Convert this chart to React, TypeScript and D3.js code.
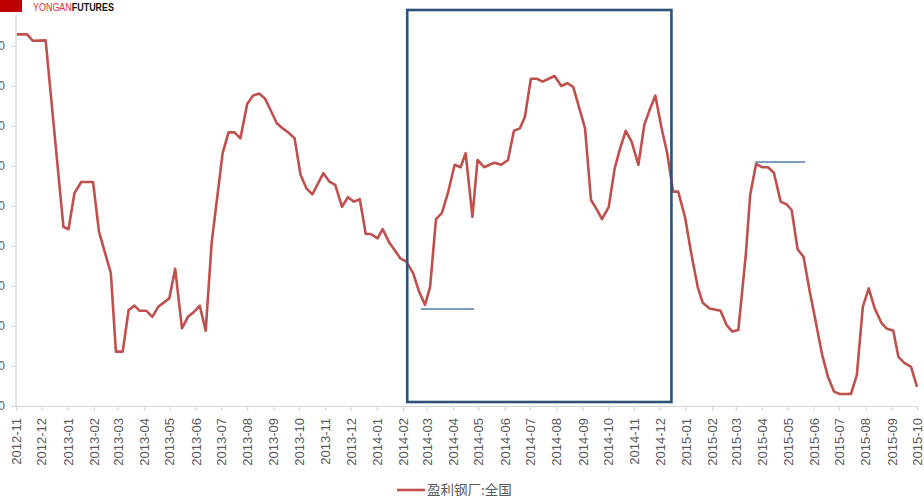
import { useEffect, useRef } from 'react';
import * as d3 from 'd3';

const W = 924;
const H = 496;

// 盈利钢厂:全国 — weekly readings
const dates = [
  '2012-11-02', '2012-11-14', '2012-11-21', '2012-12-06', '2012-12-27', '2013-01-02', '2013-01-09', '2013-01-17',
  '2013-01-31', '2013-02-07', '2013-02-21', '2013-02-27', '2013-03-07', '2013-03-14', '2013-03-21', '2013-03-27',
  '2013-04-04', '2013-04-11', '2013-04-18', '2013-05-01', '2013-05-08', '2013-05-16', '2013-05-23', '2013-05-29',
  '2013-06-06', '2013-06-13', '2013-06-20', '2013-07-03', '2013-07-10', '2013-07-17', '2013-07-24', '2013-08-01',
  '2013-08-08', '2013-08-15', '2013-08-22', '2013-08-29', '2013-09-05', '2013-09-12', '2013-09-19', '2013-09-26',
  '2013-10-03', '2013-10-10', '2013-10-17', '2013-10-30', '2013-11-06', '2013-11-13', '2013-11-21', '2013-11-28',
  '2013-12-05', '2013-12-12', '2013-12-19', '2013-12-25', '2014-01-02', '2014-01-08', '2014-01-16', '2014-01-29',
  '2014-02-05', '2014-02-13', '2014-02-20', '2014-02-27', '2014-03-05', '2014-03-12', '2014-03-19', '2014-03-26',
  '2014-04-03', '2014-04-10', '2014-04-16', '2014-04-24', '2014-04-30', '2014-05-08', '2014-05-14', '2014-05-20',
  '2014-05-28', '2014-06-05', '2014-06-12', '2014-06-19', '2014-06-25', '2014-07-02', '2014-07-09', '2014-07-16',
  '2014-07-23', '2014-07-30', '2014-08-07', '2014-08-14', '2014-08-21', '2014-09-04', '2014-09-11', '2014-09-18',
  '2014-09-24', '2014-10-02', '2014-10-09', '2014-10-15', '2014-10-22', '2014-10-29', '2014-11-06', '2014-11-13',
  '2014-11-19', '2014-11-26', '2014-12-03', '2014-12-10', '2014-12-17', '2014-12-23', '2014-12-31', '2015-01-07',
  '2015-01-15', '2015-01-21', '2015-01-29', '2015-02-11', '2015-02-18', '2015-02-25', '2015-03-04', '2015-03-13',
  '2015-03-18', '2015-03-25', '2015-04-01', '2015-04-08', '2015-04-15', '2015-04-23', '2015-04-30', '2015-05-06',
  '2015-05-13', '2015-05-20', '2015-05-27', '2015-06-03', '2015-06-11', '2015-06-18', '2015-06-25', '2015-07-02',
  '2015-07-09', '2015-07-15', '2015-07-22', '2015-07-29', '2015-08-05', '2015-08-12', '2015-08-20', '2015-08-26',
  '2015-09-03', '2015-09-09', '2015-09-16', '2015-09-24', '2015-10-01',
];

const values = [
  92.9, 92.9, 91.3, 91.4, 44.8, 44.2, 53.2, 56.0,
  56.0, 43.6, 33.2, 13.6, 13.6, 24.0, 25.1, 23.8,
  23.8, 22.3, 24.8, 26.9, 34.3, 19.4, 22.3, 23.3,
  25.1, 18.8, 40.7, 63.2, 68.4, 68.4, 66.9, 75.5,
  77.6, 78.1, 76.9, 73.8, 70.7, 69.4, 68.3, 66.9,
  57.8, 54.4, 52.9, 58.2, 56.1, 55.3, 49.8, 52.2,
  51.1, 51.7, 43.0, 43.0, 41.9, 44.2, 40.8, 36.9,
  36.1, 33.2, 28.6, 25.3, 29.8, 46.7, 48.3, 53.2,
  60.3, 59.7, 63.2, 47.3, 61.5, 59.7, 60.3, 60.8,
  60.3, 61.5, 68.8, 69.4, 72.3, 81.8, 81.8, 81.1,
  81.8, 82.5, 80.0, 80.7, 79.8, 69.4, 51.5, 49.1,
  46.7, 49.8, 59.4, 64.1, 68.8, 66.1, 60.3, 70.3,
  73.9, 77.6, 69.8, 63.2, 53.6, 53.6, 47.3, 38.6,
  29.8, 25.8, 24.4, 23.8, 20.3, 18.6, 19.0, 38.2,
  52.8, 60.5, 59.7, 59.7, 58.3, 51.1, 50.4, 49.0,
  39.2, 37.3, 29.0, 21.5, 12.8, 7.2, 3.6, 3.0,
  3.0, 3.0, 7.8, 24.8, 29.4, 24.4, 20.8, 19.4,
  18.8, 12.3, 10.8, 9.8, 4.8,
];

const yTicks = [0, 10, 20, 30, 40, 50, 60, 70, 80, 90];

// annotations drawn on the chart
const boxDates = ['2014-02-06', '2014-12-15'];
const boxValues = [1, 99];
const lowMarkDates = ['2014-02-22', '2014-04-26'];
const lowMarkValue = 24.25;
const highMarkDates = ['2015-03-24', '2015-05-22'];
const highMarkValue = 61;

const seriesName = '盈利钢厂:全国';

export default function App() {
  const svgRef = useRef<SVGSVGElement>(null);

  useEffect(() => {
    if (!svgRef.current) return;
    const svg = d3.select(svgRef.current);
    svg.selectAll('*').remove();

    const parse = d3.timeParse('%Y-%m-%d');
    const data = dates.map((d, i) => ({ date: parse(d) as Date, value: values[i] }));

    const x = d3
      .scaleTime()
      .domain([new Date(2012, 10, 1), new Date(2015, 9, 1)])
      .range([16, 917]);
    const y = d3.scaleLinear().domain([0, 100]).range([406, 6]);

    const axisColor = '#d4d4d4';
    const textColor = '#595959';

    // y axis (labels run off the left edge, as in the source image)
    const yAxis = svg
      .append('g')
      .attr('transform', 'translate(16,0)')
      .call(d3.axisLeft(y).tickValues(yTicks).tickSize(5).tickPadding(6).tickFormat((d) => String(d)));
    yAxis.select('.domain').remove();
    yAxis.selectAll('line').attr('stroke', axisColor);
    yAxis
      .selectAll('text')
      .attr('fill', textColor)
      .style('font-family', 'Liberation Sans, Arial, sans-serif')
      .style('font-size', '12px');
    svg
      .append('line')
      .attr('x1', 16)
      .attr('x2', 16)
      .attr('y1', y(97.8))
      .attr('y2', y(0))
      .attr('stroke', axisColor)
      .attr('stroke-width', 1.2);

    // x axis
    const xAxis = svg
      .append('g')
      .attr('transform', `translate(0,${y(0)})`)
      .call(
        d3
          .axisBottom(x)
          .ticks(d3.timeMonth.every(1))
          .tickSize(5)
          .tickFormat((d) => d3.timeFormat('%Y-%m')(d as Date))
      );
    xAxis.select('.domain').attr('stroke', axisColor).attr('stroke-width', 1.2);
    xAxis.selectAll('line').attr('stroke', axisColor);
    xAxis
      .selectAll('text')
      .attr('fill', textColor)
      .attr('transform', 'rotate(-90)')
      .attr('text-anchor', 'end')
      .attr('dy', '0.35em')
      .attr('x', -12)
      .attr('y', 0)
      .style('font-family', 'Liberation Sans, Arial, sans-serif')
      .style('font-size', '13px');

    // series line
    const line = d3
      .line<{ date: Date; value: number }>()
      .x((d) => x(d.date))
      .y((d) => y(d.value));
    svg
      .append('path')
      .datum(data)
      .attr('d', line)
      .attr('fill', 'none')
      .attr('stroke', '#c0504d')
      .attr('stroke-width', 2.6)
      .attr('stroke-linejoin', 'round');

    // highlight box
    const bx0 = x(parse(boxDates[0]) as Date);
    const bx1 = x(parse(boxDates[1]) as Date);
    svg
      .append('rect')
      .attr('x', bx0)
      .attr('y', y(boxValues[1]))
      .attr('width', bx1 - bx0)
      .attr('height', y(boxValues[0]) - y(boxValues[1]))
      .attr('fill', 'none')
      .attr('stroke', '#2f5078')
      .attr('stroke-width', 2.6);

    // marker lines
    [
      { ds: lowMarkDates, v: lowMarkValue },
      { ds: highMarkDates, v: highMarkValue },
    ].forEach((m) => {
      svg
        .append('line')
        .attr('x1', x(parse(m.ds[0]) as Date))
        .attr('x2', x(parse(m.ds[1]) as Date))
        .attr('y1', y(m.v))
        .attr('y2', y(m.v))
        .attr('stroke', '#4f7fae')
        .attr('stroke-width', 1.4);
    });

    // logo
    const logo = svg.append('g');
    logo.append('rect').attr('x', 0).attr('y', 0).attr('width', 22).attr('height', 12).attr('fill', '#c00000');
    const logoText = logo
      .append('text')
      .attr('x', 33)
      .attr('y', 11)
      .attr('textLength', 81)
      .attr('lengthAdjust', 'spacingAndGlyphs')
      .style('font-family', 'Liberation Sans, Arial, sans-serif')
      .style('font-size', '11px');
    logoText.append('tspan').attr('fill', '#e0312f').text('YONGAN');
    logoText.append('tspan').attr('fill', '#111').style('font-weight', 'bold').text('FUTURES');

    // legend
    svg
      .append('line')
      .attr('x1', 397)
      .attr('x2', 425)
      .attr('y1', 490)
      .attr('y2', 490)
      .attr('stroke', '#c0504d')
      .attr('stroke-width', 2.6);
    svg
      .append('text')
      .attr('x', 427)
      .attr('y', 495)
      .attr('fill', textColor)
      .style('font-family', 'Noto Sans CJK SC, sans-serif')
      .style('font-size', '13.5px')
      .text(seriesName);
  }, []);

  return (
    <svg
      ref={svgRef}
      width={W}
      height={H}
      style={{ position: 'absolute', left: 0, top: 0, background: '#fff' }}
    ></svg>
  );
}
